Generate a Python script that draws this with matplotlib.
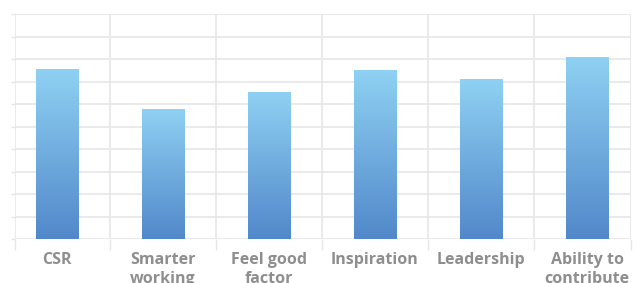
import numpy as np
import matplotlib.pyplot as plt
from matplotlib.colors import LinearSegmentedColormap

categories = ['CSR', 'Smarter\nworking', 'Feel good\nfactor', 'Inspiration', 'Leadership', 'Ability to\ncontribute']
values = [7.55, 5.8, 6.55, 7.5, 7.1, 8.1]

grid_color = '#e6e6e6'
label_color = '#8e8e8e'
top_color = '#8fd1f3'
bottom_color = '#5288ca'

fig = plt.figure(figsize=(6.38, 2.83), dpi=100)
ax = fig.add_axes([15 / 638, 44 / 283, 616 / 638, 225 / 283])

x = np.arange(len(categories))
bars = ax.bar(x, values, width=0.4, color='none', zorder=3)

cmap = LinearSegmentedColormap.from_list('grad', [bottom_color, top_color])
grad = np.linspace(0, 1, 256).reshape(-1, 1)
for b in bars:
    bx, by = b.get_x(), b.get_y()
    w, h = b.get_width(), b.get_height()
    im = ax.imshow(grad, cmap=cmap, aspect='auto', origin='lower',
                   extent=[bx, bx + w, by, by + h], zorder=3)
    im.set_clip_path(b)

# chart is cropped a little on both sides
xmin, xmax = -0.396, 5.415
ax.set_xlim(xmin, xmax)
ax.set_ylim(0, 10)

for s in ax.spines.values():
    s.set_visible(False)

ax.set_yticks(np.arange(0, 11, 1))
ax.set_yticklabels([])
ax.tick_params(axis='y', length=3, width=1, color=grid_color)
ax.yaxis.grid(True, color=grid_color, linewidth=1.2, zorder=0)

ax.set_xticks(x)
ax.set_xticklabels(categories, fontfamily='Open Sans', fontweight='bold', fontsize=11.5,
                   color=label_color, linespacing=1.3)
ax.tick_params(axis='x', which='major', length=0, pad=9)
bounds = [xmin] + list(np.arange(0.5, len(categories) - 1, 1)) + [xmax]
ax.set_xticks(bounds, minor=True)
ax.tick_params(axis='x', which='minor', length=8, width=1, color=grid_color)
ax.xaxis.grid(True, which='minor', color=grid_color, linewidth=1.2, zorder=0)
ax.set_axisbelow(True)

fig.savefig('out.png', dpi=100)
